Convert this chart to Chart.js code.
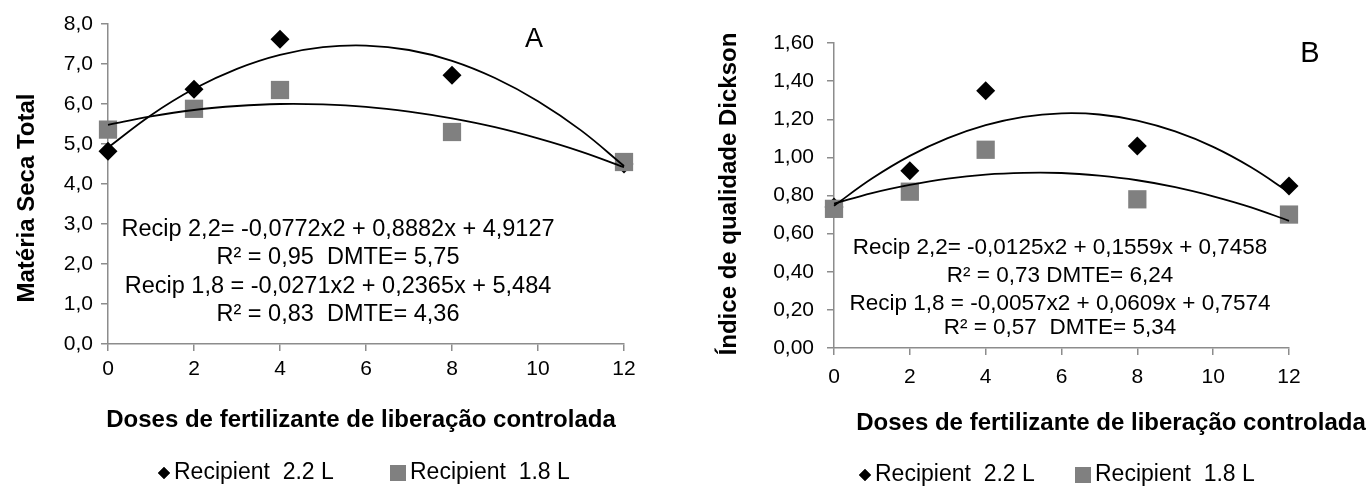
<!DOCTYPE html>
<html>
<head>
<meta charset="utf-8">
<script src="https://cdn.jsdelivr.net/npm/chart.js@4.4.1/dist/chart.umd.min.js"></script>
<style>
  html, body { margin: 0; padding: 0; background: #fff; }
  body { width: 1369px; height: 489px; overflow: hidden; position: relative; }
  #c1 { position: absolute; left: 0; top: 0; }
  #c2 { position: absolute; left: 690px; top: 0; }
</style>
</head>
<body>
<canvas id="c1" width="690" height="489" style="width:690px;height:489px"></canvas>
<canvas id="c2" width="679" height="489" style="width:679px;height:489px"></canvas>
<script>
// ---------- data ----------
const doses = [0, 2, 4, 8, 12];
const msRecip22 = [4.82, 6.37, 7.62, 6.72, 4.50];
const msRecip18 = [5.36, 5.88, 6.35, 5.30, 4.55];
const iqdRecip22 = [0.74, 0.93, 1.35, 1.06, 0.85];
const iqdRecip18 = [0.73, 0.82, 1.04, 0.78, 0.70];

const trendDoses = [0, 1, 2, 3, 4, 5, 6, 7, 8, 9, 10, 11, 12];
const msTrend22 = [4.91, 5.72, 6.38, 6.88, 7.23, 7.42, 7.46, 7.35, 7.08, 6.65, 6.07, 5.34, 4.45];
const msTrend18 = [5.48, 5.69, 5.85, 5.95, 6.00, 5.99, 5.93, 5.81, 5.64, 5.42, 5.14, 4.81, 4.42];
const iqdTrend22 = [0.746, 0.889, 1.008, 1.101, 1.169, 1.213, 1.231, 1.225, 1.193, 1.136, 1.055, 0.948, 0.817];
const iqdTrend18 = [0.757, 0.813, 0.856, 0.889, 0.910, 0.919, 0.918, 0.904, 0.880, 0.844, 0.796, 0.738, 0.667];

const xTickLabels = ['0', '2', '4', '6', '8', '10', '12'];
const msTickLabels = ['0,0', '1,0', '2,0', '3,0', '4,0', '5,0', '6,0', '7,0', '8,0'];
const iqdTickLabels = ['0,00', '0,20', '0,40', '0,60', '0,80', '1,00', '1,20', '1,40', '1,60'];

const seriesNames = ['Recipient  2.2 L', 'Recipient  1.8 L'];
const xTitle = 'Doses de fertilizante de liberação controlada';
const msTitle = 'Matéria Seca Total';
const iqdTitle = 'Índice de qualidade Dickson';
const msEquations = [
  'Recip 2,2= -0,0772x2 + 0,8882x + 4,9127',
  'R² = 0,95  DMTE= 5,75',
  'Recip 1,8 = -0,0271x2 + 0,2365x + 5,484',
  'R² = 0,83  DMTE= 4,36'
];
const iqdEquations = [
  'Recip 2,2= -0,0125x2 + 0,1559x + 0,7458',
  'R² = 0,73 DMTE= 6,24',
  'Recip 1,8 = -0,0057x2 + 0,0609x + 0,7574',
  'R² = 0,57  DMTE= 5,34'
];
const panelLetters = ['A', 'B'];

// ---------- style ----------
const FONT = "'Liberation Sans', Arial, Helvetica, sans-serif";
const AXIS = '#8c8c8c';
const GRAY = '#808080';

const textPlugin = {
  id: 'annot',
  afterDraw(chart, args, o) {
    const ctx = chart.ctx;
    ctx.save();
    ctx.fillStyle = '#000';
    ctx.textBaseline = 'middle';
    // equations
    ctx.textAlign = 'center';
    ctx.font = o.eqSize + 'px ' + FONT;
    o.eq.forEach((t, i) => ctx.fillText(t, o.eqX, o.eqY[i]));
    // panel letter
    ctx.font = o.letterSize + 'px ' + FONT;
    ctx.fillText(o.letter, o.letterX, o.letterY);
    // x title
    ctx.font = 'bold ' + o.titleSize + 'px ' + FONT;
    ctx.fillText(o.xTitle, o.xtX, o.xtY);
    // y title
    ctx.save();
    ctx.translate(o.ytX, o.ytY);
    ctx.rotate(-Math.PI / 2);
    ctx.fillText(o.yTitle, 0, 0);
    ctx.restore();
    // legend
    ctx.textAlign = 'left';
    ctx.font = o.legSize + 'px ' + FONT;
    const ds22 = chart.data.datasets[3];
    const ds18 = chart.data.datasets[2];
    ctx.fillStyle = '#000';
    Chart.helpers.drawPoint(ctx, {pointStyle: 'rectRot', radius: 6, borderWidth: 0}, o.leg[0], o.legY);
    ctx.fill();
    ctx.fillText(ds22.label, o.leg[1], o.legY);
    ctx.fillStyle = GRAY;
    Chart.helpers.drawPoint(ctx, {pointStyle: 'rect', radius: 11.3, borderWidth: 0}, o.leg[2], o.legY);
    ctx.fill();
    ctx.fillStyle = '#000';
    ctx.fillText(ds18.label, o.leg[3], o.legY);
    ctx.restore();
  }
};

function makeChart(canvas, o) {
  const pts = (xs, ys) => xs.map((x, i) => ({x: x, y: ys[i]}));
  return new Chart(canvas, {
    type: 'scatter',
    data: {
      datasets: [
        {label: 'trend22', data: pts(trendDoses, o.t22), showLine: true, borderColor: '#000', borderWidth: 1.8,
         pointRadius: 0, tension: 0.4, order: 0, clip: false},
        {label: 'trend18', data: pts(trendDoses, o.t18), showLine: true, borderColor: '#000', borderWidth: 1.8,
         pointRadius: 0, tension: 0.4, order: 0, clip: false},
        {label: seriesNames[1], data: pts(doses, o.s18), pointStyle: 'rect', pointRadius: 12.9,
         backgroundColor: GRAY, borderWidth: 0, order: 1, clip: false},
        {label: seriesNames[0], data: pts(doses, o.s22), pointStyle: 'rectRot', pointRadius: 9.5,
         backgroundColor: '#000', borderWidth: 0, order: 2, clip: false}
      ]
    },
    options: {
      responsive: false,
      animation: false,
      devicePixelRatio: 1,
      layout: {padding: o.pad},
      plugins: {legend: {display: false}, tooltip: {enabled: false}, annot: o.annot},
      scales: {
        x: {
          type: 'linear', min: 0, max: 12,
          ticks: {stepSize: 2, color: '#000', font: {family: FONT, size: o.tickSize}, padding: o.xPad,
                  maxRotation: 0, callback: (v, i) => xTickLabels[i]},
          grid: {display: true, drawOnChartArea: false, drawTicks: true, tickLength: 7, color: AXIS, lineWidth: 1.5},
          border: {display: true, color: AXIS, width: 1.5},
          afterFit: s => { s.height = 40; }
        },
        y: {
          type: 'linear', min: 0, max: o.ymax,
          ticks: {stepSize: o.step, color: '#000', font: {family: FONT, size: o.tickSize}, padding: o.yPad,
                  callback: (v, i) => o.tickLabels[i]},
          grid: {display: true, drawOnChartArea: false, drawTicks: true, tickLength: 7, color: AXIS, lineWidth: 1.5},
          border: {display: true, color: AXIS, width: 1.5},
          afterFit: s => { s.width = o.yw; }
        }
      }
    },
    plugins: [textPlugin]
  });
}

makeChart(document.getElementById('c1'), {
  s22: msRecip22, s18: msRecip18, t22: msTrend22, t18: msTrend18,
  ymax: 8, step: 1, tickLabels: msTickLabels, tickSize: 21, xPad: 6, yPad: 8,
  yw: 108, pad: {left: 0, right: 66, top: 24, bottom: 105},
  annot: {
    eq: msEquations, eqSize: 23.5, eqX: 338, eqY: [230, 258, 287, 315],
    letter: panelLetters[0], letterSize: 27, letterX: 534, letterY: 40,
    xTitle: xTitle, titleSize: 24, xtX: 361, xtY: 420,
    yTitle: msTitle, ytX: 27, ytY: 198,
    legSize: 23, legY: 473, leg: [164, 174, 398, 410]
  }
});

makeChart(document.getElementById('c2'), {
  s22: iqdRecip22, s18: iqdRecip18, t22: iqdTrend22, t18: iqdTrend18,
  ymax: 1.6, step: 0.2, tickLabels: iqdTickLabels, tickSize: 21, xPad: 10, yPad: 13,
  yw: 144, pad: {left: 0, right: 80, top: 43, bottom: 101},
  annot: {
    eq: iqdEquations, eqSize: 22.5, eqX: 370, eqY: [248, 276, 304, 328],
    letter: panelLetters[1], letterSize: 29, letterX: 620, letterY: 54,
    xTitle: xTitle, titleSize: 24, xtX: 421, xtY: 423,
    yTitle: iqdTitle, ytX: 39, ytY: 194,
    legSize: 23, legY: 475, leg: [175, 185, 393, 405]
  }
});
</script>
</body>
</html>
